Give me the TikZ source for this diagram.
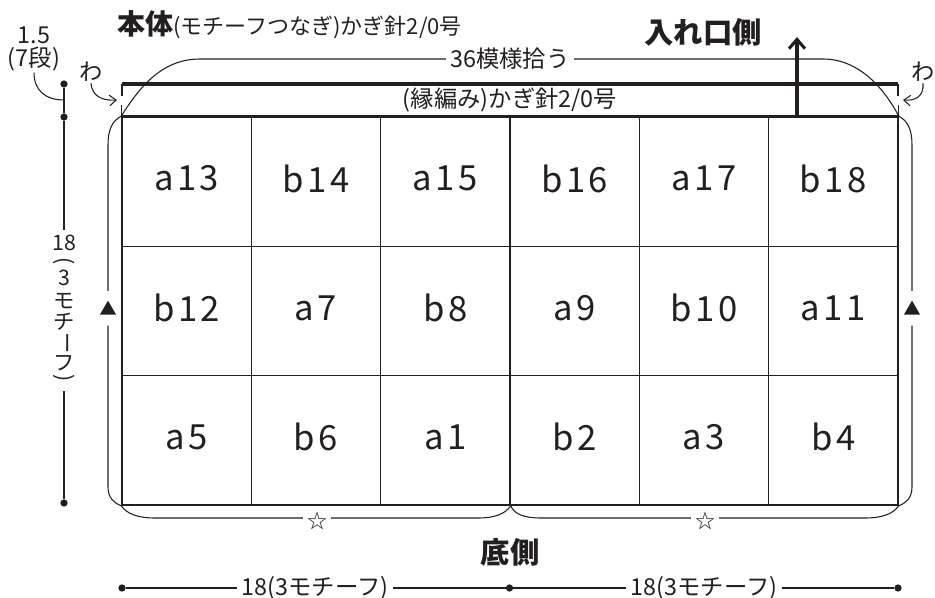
\documentclass[tikz,border=0pt]{standalone}
\usepackage{fontspec}
\setmainfont{Noto Sans CJK JP}
\newfontfamily\cellfont{Noto Sans CJK JP}[LetterSpace=10]
\usepackage{tikz}
\usetikzlibrary{arrows.meta,positioning,shapes.geometric}
\definecolor{ink}{HTML}{231F20}
\newcommand\turn[1]{\rotatebox[origin=c]{-90}{#1}}
\tikzset{
  cell/.style={draw=ink,line width=1.2pt,minimum width=97pt,minimum height=97pt,inner sep=0pt,text depth=5pt,font=\cellfont\fontsize{26}{26}\selectfont,text=ink},
  thin/.style={draw=ink,line width=0.8pt},
  heavy/.style={draw=ink,line width=2.3pt},
  lbl/.style={font=\fontsize{17.5}{19}\selectfont,text=ink,inner sep=1pt},
  gaplbl/.style={lbl,fill=white,inner sep=3pt},
  vchar/.style={font=\fontsize{16}{16}\selectfont,text=ink,inner sep=0pt},
  big/.style={font=\bfseries\fontsize{22}{24}\selectfont,text=ink,inner sep=0pt},
  dot/.style={circle,fill=ink,inner sep=0pt,minimum size=5.5pt},
  tri/.style={regular polygon,regular polygon sides=3,fill=ink,inner sep=0pt,minimum size=14pt},
  wa/.style={thin,-{Straight Barb[length=5pt,width=8pt]}},
}
\begin{document}
\begin{tikzpicture}[x=0.75pt,y=-0.75pt]
\useasboundingbox (0,0) rectangle (935,598);
% motifs, 6 x 3
\foreach \lab [count=\i from 0] in {a13,b14,a15,b16,a17,b18,b12,a7,b8,a9,b10,a11,a5,b6,a1,b2,a3,b4}{
  \pgfmathtruncatemacro\col{mod(\i,6)}
  \pgfmathtruncatemacro\row{div(\i,6)}
  \node[cell] (m\i) at ({122+129.33*(\col+0.5)},{117+129.33*(\row+0.5)}) {\lab};
}
\coordinate (tl) at (m0.north west);
\coordinate (tr) at (m5.north east);
\coordinate (bl) at (m12.south west);
\coordinate (bm) at (m14.south east);
\coordinate (br) at (m17.south east);

% edging band
\coordinate (btl) at (122,84);
\coordinate (btr) at (898,84);
\draw[heavy] (btl) -- (btr);
\draw[heavy] (tl) -- (tr);
\draw[thin] (btl) -- ++(0,12);
\draw[thin] (tl) -- ++(0,-11);
\draw[thin] (btr) -- ++(0,12);
\draw[thin] (tr) -- ++(0,-11);
\node[lbl] (edge) at (510,100) {(縁編み)かぎ針2/0号};

% opening side
\coordinate (inbase) at (797,117);
\coordinate (intip) at (797,37);
\draw[heavy,-{Straight Barb[length=7pt,width=12pt]}] (inbase) -- (intip);
\node[big] (mouth) at (703,32) {入れ口側};

% title
\node[anchor=base west,inner sep=0pt,text=ink] (title) at (117,35)
  {{\bfseries\fontsize{21}{24}\selectfont 本体}{\fontsize{16.5}{18}\selectfont (モチーフつなぎ)かぎ針2/0号}};

% pick-up bracket
\draw[thin] (tl) .. controls (138,90) and (160,59) .. (200,59) -- (823,59) .. controls (860,59) and (885,90) .. (tr);
\node[gaplbl] (pick) at (510,59) {36模様拾う};

% side brackets
\node[tri] (ltri) at (108,310) {};
\draw[thin] ([yshift=7pt]ltri.north) -- (108,145) .. controls (108,130) and (112,121) .. (tl);
\draw[thin] ([yshift=-8pt]ltri.south) -- (108,487) .. controls (108,498) and (114,503) .. (bl);
\node[tri] (rtri) at (912,310) {};
\draw[thin] ([yshift=7pt]rtri.north) -- (912,145) .. controls (912,130) and (908,121) .. (tr);
\draw[thin] ([yshift=-8pt]rtri.south) -- (912,487) .. controls (912,498) and (906,503) .. (br);

% bottom brackets
\draw[thin] (bl) .. controls (127,514) and (138,518) .. (155,518) -- (478,518) .. controls (495,518) and (505,514) .. (bm);
\node[gaplbl,font=\fontsize{15}{15}\selectfont] (starL) at (317,521) {☆};
\draw[thin] (bm) .. controls (514,514) and (524,518) .. (541,518) -- (865,518) .. controls (882,518) and (893,514) .. (br);
\node[gaplbl,font=\fontsize{15}{15}\selectfont] (starR) at (705,521) {☆};
\node[big] (base) at (510,552) {底側};

% "wa" marks
\node[lbl] (waL) at (91,72) {わ};
\coordinate (waLtip) at (117,100);
\draw[wa] (waL.south) .. controls (92,96) and (102,101) .. (waLtip);
\node[lbl] (waR) at (923,72) {わ};
\coordinate (waRtip) at (903,100);
\draw[wa] (waR.south) .. controls (924,96) and (916,101) .. (waRtip);

% height dimension, set vertically
\node[dot] (d1) at (64,84) {};
\node[dot] (d2) at (64,117) {};
\node[dot] (d3) at (64,503) {};
\draw[thin] (d1) -- (d2);
\foreach \g/\y [count=\k] in {18/243,{\turn{(}}/263,3/278,モ/301,チ/322,{\turn{ー}}/343,フ/363,{\turn{)}}/380}
  \node[vchar] (v\k) at (64,\y) {\g};
\draw[thin] (d2) -- ([yshift=4pt]v1.north);
\draw[thin] ([yshift=-4pt]v8.south) -- (d3);
\node[lbl] (t15) at (34,35) {1.5};
\node[lbl] (t7) at (34,59) {(7段)};
\coordinate (d12) at (64,100);
\draw[thin] (t7.south) .. controls (34,90) and (45,100) .. (d12);

% width dimension
\node[dot] (e1) at (122,588) {};
\node[dot] (e2) at (509.5,588) {};
\node[dot] (e3) at (898,588) {};
\node[lbl,inner sep=3pt] (wl) at (315,588) {18(3モチーフ)};
\node[lbl,inner sep=3pt] (wr) at (704,588) {18(3モチーフ)};
\draw[thin] (e1) -- (wl);
\draw[thin] (wl) -- (e2);
\draw[thin] (e2) -- (wr);
\draw[thin] (wr) -- (e3);
\end{tikzpicture}
\end{document}
